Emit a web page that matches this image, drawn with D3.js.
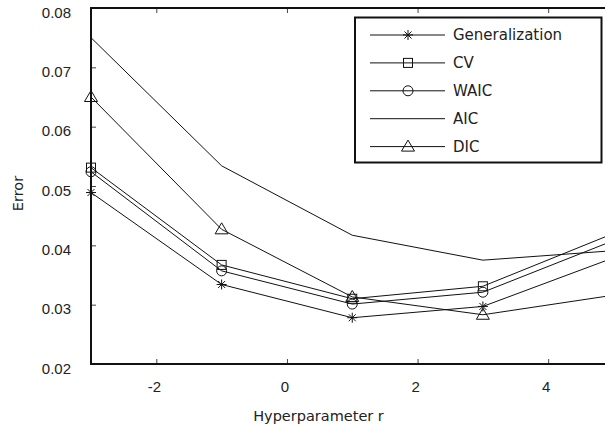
<!DOCTYPE html>
<html>
<head>
<meta charset="utf-8">
<script src="https://cdn.jsdelivr.net/npm/d3@7"></script>
<style>
  html, body { margin: 0; padding: 0; background: #fff; }
  svg { display: block; font-family: "DejaVu Sans", sans-serif; }
</style>
</head>
<body>
<svg id="chart" width="605" height="430"></svg>
<script>
// Hyperparameter values on the x axis
const rValues = [-3, -1, 1, 3, 5];

// Error estimates for each criterion
const generalization = [0.0489, 0.0334, 0.0278, 0.0297, 0.0379];
const cv             = [0.0531, 0.0367, 0.0310, 0.0331, 0.0420];
const waic           = [0.0524, 0.0357, 0.0301, 0.0321, 0.0408];
const aic            = [0.0750, 0.0534, 0.0417, 0.0375, 0.0391];
const dic            = [0.0650, 0.0427, 0.0313, 0.0283, 0.0316];

const seriesNames   = ["Generalization", "CV", "WAIC", "AIC", "DIC"];
const seriesMarkers = ["star", "square", "circle", "none", "triangle"];
const seriesValues  = [generalization, cv, waic, aic, dic];

const xTicks = [-2, 0, 2, 4];
const yTicks = [0.02, 0.03, 0.04, 0.05, 0.06, 0.07, 0.08];

const svg = d3.select("#chart");
const plotLeft = 91, plotTop = 8, plotBottom = 364, plotRight = 613.5;

const x = d3.scaleLinear().domain([-3, 5]).range([plotLeft, plotRight]);
const y = d3.scaleLinear().domain([0.02, 0.08]).range([plotBottom, plotTop]);

// Axes with inward ticks
const yAxis = d3.axisLeft(y).tickValues(yTicks).tickFormat(d3.format(".2f"))
  .tickSize(-5).tickPadding(20);
const xAxis = d3.axisBottom(x).tickValues(xTicks).tickFormat(d => d < 0 ? "-" + Math.abs(d) : d)
  .tickSize(-5).tickPadding(17);
const xTop = d3.axisTop(x).tickValues(xTicks).tickFormat("").tickSize(-5);

function styleAxis(g) {
  g.select(".domain").remove();
  g.selectAll(".tick line").attr("stroke", "#444").attr("stroke-width", 1);
  g.selectAll(".tick text").attr("fill", "#222").style("font-size", "15px");
}

svg.append("g").attr("transform", `translate(${plotLeft},0)`).call(yAxis).call(styleAxis)
  .selectAll(".tick text").attr("dy", "0.6em");
svg.append("g").attr("transform", `translate(0,${plotBottom})`).call(xAxis).call(styleAxis)
  .selectAll(".tick text").attr("dx", "-2.5");
svg.append("g").attr("transform", `translate(0,${plotTop})`).call(xTop).call(styleAxis);

// Plot frame (left, bottom, top)
const frame = svg.append("g").attr("stroke", "#111").attr("stroke-width", 2).attr("fill", "none");
frame.append("line").attr("x1", plotLeft).attr("x2", plotLeft).attr("y1", plotTop - 1).attr("y2", plotBottom + 1);
frame.append("line").attr("x1", plotLeft).attr("x2", plotRight).attr("y1", plotBottom).attr("y2", plotBottom);
frame.append("line").attr("x1", plotLeft).attr("x2", plotRight).attr("y1", plotTop).attr("y2", plotTop);

// Marker shapes
function drawMarker(g, type, cx, cy) {
  const s = g.append("g").attr("transform", `translate(${cx},${cy})`)
    .attr("fill", "none").attr("stroke", "#111").attr("stroke-width", 1);
  if (type === "star") {
    const r = 5;
    s.append("line").attr("x1", -r).attr("x2", r).attr("y1", 0).attr("y2", 0);
    s.append("line").attr("x1", 0).attr("x2", 0).attr("y1", -r).attr("y2", r);
    s.append("line").attr("x1", -r * 0.7).attr("x2", r * 0.7).attr("y1", -r * 0.7).attr("y2", r * 0.7);
    s.append("line").attr("x1", -r * 0.7).attr("x2", r * 0.7).attr("y1", r * 0.7).attr("y2", -r * 0.7);
  } else if (type === "square") {
    s.append("rect").attr("x", -4.5).attr("y", -4.5).attr("width", 9).attr("height", 9);
  } else if (type === "circle") {
    s.append("circle").attr("r", 5);
  } else if (type === "triangle") {
    s.append("path").attr("d", "M0,-6.5 L6.5,4.5 L-6.5,4.5 Z");
  }
}

const line = d3.line().x(d => x(d[0])).y(d => y(d[1]));
const plot = svg.append("g");

seriesValues.forEach((vals, i) => {
  const pts = rValues.map((r, j) => [r, vals[j]]);
  plot.append("path").datum(pts).attr("d", line)
    .attr("fill", "none").attr("stroke", "#111").attr("stroke-width", 1);
  pts.forEach(p => drawMarker(plot, seriesMarkers[i], x(p[0]), y(p[1])));
});

// Legend
const legend = svg.append("g");
legend.append("rect").attr("x", 355).attr("y", 17.5).attr("width", 246.5).attr("height", 145)
  .attr("fill", "#fff").attr("stroke", "#111").attr("stroke-width", 2);
seriesNames.forEach((name, i) => {
  const ly = 35 + i * 27.9;
  legend.append("line").attr("x1", 370).attr("x2", 445).attr("y1", ly).attr("y2", ly)
    .attr("stroke", "#111").attr("stroke-width", 1);
  drawMarker(legend, seriesMarkers[i], 408, ly);
  legend.append("text").attr("x", 453).attr("y", ly).attr("dy", "0.36em")
    .attr("fill", "#222").style("font-size", "15px").text(name);
});

// Axis titles
svg.append("text").attr("x", 318.5).attr("y", 420.5).attr("text-anchor", "middle")
  .attr("fill", "#222").style("font-size", "14.5px").text("Hyperparameter r");
svg.append("text").attr("transform", "translate(22.5,193.5) rotate(-90)").attr("text-anchor", "middle")
  .attr("fill", "#222").style("font-size", "14.5px").text("Error");
</script>
</body>
</html>
